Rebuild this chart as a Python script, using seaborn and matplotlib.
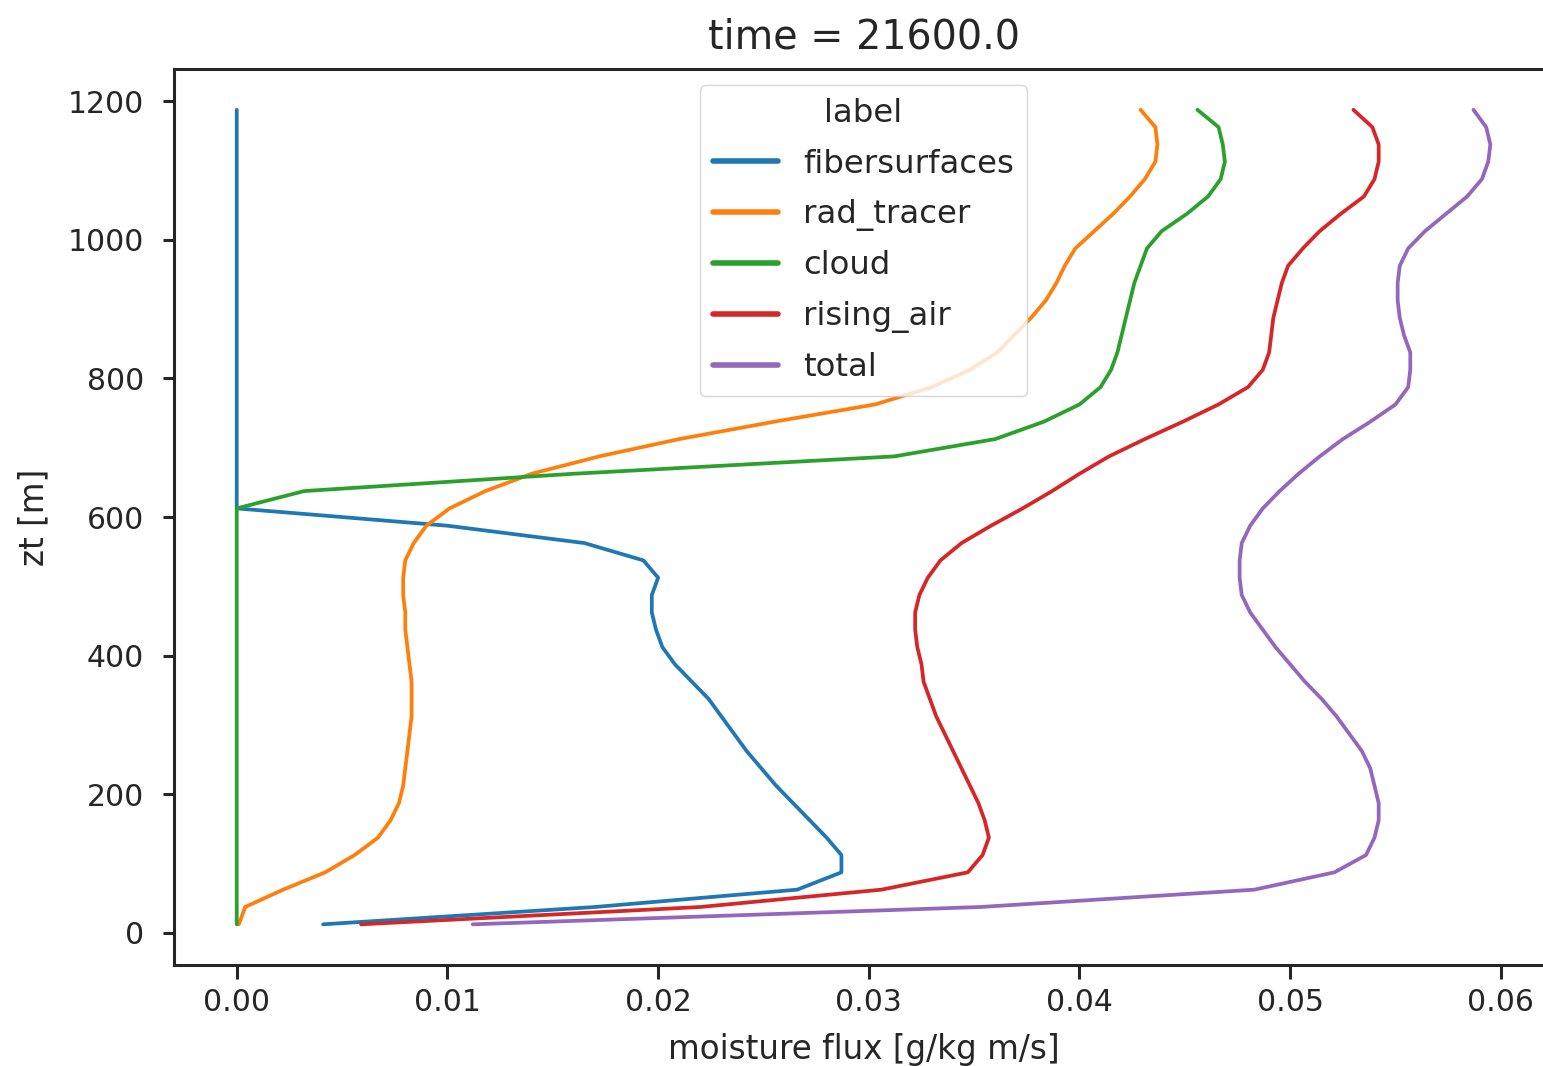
import matplotlib
matplotlib.use("Agg")
import matplotlib.pyplot as plt
import pandas as pd
import seaborn as sns

# ---------------- DATA ----------------
ZT = [12.5, 37.5, 62.5, 87.5, 112.5, 137.5, 162.5, 187.5, 212.5, 237.5,
      262.5, 287.5, 312.5, 337.5, 362.5, 387.5, 412.5, 437.5, 462.5, 487.5,
      512.5, 537.5, 562.5, 587.5, 612.5, 637.5, 662.5, 687.5, 712.5, 737.5,
      762.5, 787.5, 812.5, 837.5, 862.5, 887.5, 912.5, 937.5, 962.5, 987.5,
      1012.5, 1037.5, 1062.5, 1087.5, 1112.5, 1137.5, 1162.5, 1187.5]

FIBERSURFACES = [0.0041, 0.0170, 0.0266, 0.0287, 0.0287, 0.0280, 0.0272, 0.0264, 0.0256, 0.0249,
                 0.0242, 0.0236, 0.0230, 0.0224, 0.0216, 0.0208, 0.0202, 0.0199, 0.0197, 0.0197,
                 0.0200, 0.0193, 0.0165, 0.0100, 0.0000, 0.0000, 0.0000, 0.0000, 0.0000, 0.0000,
                 0.0000, 0.0000, 0.0000, 0.0000, 0.0000, 0.0000, 0.0000, 0.0000, 0.0000, 0.0000,
                 0.0000, 0.0000, 0.0000, 0.0000, 0.0000, 0.0000, 0.0000, 0.0000]

RAD_TRACER = [0.0001, 0.0004, 0.0022, 0.0042, 0.0056, 0.0067, 0.0073, 0.0077, 0.0079, 0.0080,
              0.0081, 0.0082, 0.0083, 0.0083, 0.0083, 0.0082, 0.0081, 0.0080, 0.0080, 0.0079,
              0.0079, 0.0080, 0.0084, 0.0090, 0.0101, 0.0118, 0.0140, 0.0172, 0.0210, 0.0255,
              0.0303, 0.0330, 0.0348, 0.0361, 0.0369, 0.0377, 0.0384, 0.0389, 0.0393, 0.0398,
              0.0407, 0.0416, 0.0424, 0.0431, 0.0436, 0.0437, 0.0436, 0.0429]

CLOUD = [0.0000, 0.0000, 0.0000, 0.0000, 0.0000, 0.0000, 0.0000, 0.0000, 0.0000, 0.0000,
         0.0000, 0.0000, 0.0000, 0.0000, 0.0000, 0.0000, 0.0000, 0.0000, 0.0000, 0.0000,
         0.0000, 0.0000, 0.0000, 0.0000, 0.0000, 0.0032, 0.0160, 0.0312, 0.0360, 0.0383,
         0.0400, 0.0410, 0.0415, 0.0418, 0.0420, 0.0422, 0.0424, 0.0426, 0.0429, 0.0432,
         0.0439, 0.0451, 0.0461, 0.0467, 0.0469, 0.0468, 0.0466, 0.0456]

RISING_AIR = [0.0059, 0.0220, 0.0306, 0.0347, 0.0354, 0.0357, 0.0355, 0.0352, 0.0348, 0.0344,
              0.0340, 0.0336, 0.0332, 0.0329, 0.0326, 0.0325, 0.0323, 0.0322, 0.0322, 0.0324,
              0.0328, 0.0334, 0.0344, 0.0358, 0.0373, 0.0387, 0.0400, 0.0414, 0.0431, 0.0449,
              0.0466, 0.0480, 0.0487, 0.0490, 0.0491, 0.0492, 0.0494, 0.0496, 0.0499, 0.0506,
              0.0514, 0.0524, 0.0535, 0.0540, 0.0542, 0.0542, 0.0539, 0.0530]

TOTAL = [0.0112, 0.0353, 0.0483, 0.0521, 0.0536, 0.0540, 0.0542, 0.0542, 0.0540, 0.0538,
         0.0534, 0.0528, 0.0522, 0.0515, 0.0507, 0.0500, 0.0493, 0.0487, 0.0481, 0.0477,
         0.0476, 0.0476, 0.0477, 0.0481, 0.0487, 0.0495, 0.0504, 0.0514, 0.0525, 0.0538,
         0.0550, 0.0556, 0.0557, 0.0557, 0.0554, 0.0552, 0.0551, 0.0551, 0.0552, 0.0556,
         0.0564, 0.0574, 0.0584, 0.0591, 0.0594, 0.0595, 0.0593, 0.0587]

LABELS = ["fibersurfaces", "rad_tracer", "cloud", "rising_air", "total"]
SERIES = [FIBERSURFACES, RAD_TRACER, CLOUD, RISING_AIR, TOTAL]

# long-form table for seaborn
frames = []
for name, vals in zip(LABELS, SERIES):
    frames.append(pd.DataFrame({"zt": ZT, "flux": vals, "label": name}))
df = pd.concat(frames, ignore_index=True)

# ---------------- STYLE ----------------
sns.set_theme(style="ticks", palette="tab10")
plt.rcParams["font.family"] = ["DejaVu Sans"]
plt.rcParams["axes.linewidth"] = 2.2

fig = plt.figure(figsize=(15.43, 10.66), dpi=100)
# axes runs slightly past the right edge, like the reference
ax = fig.add_axes([0.1128, 0.0947, 0.8937, 0.8405])

sns.lineplot(
    data=df,
    x="flux",
    y="zt",
    hue="label",
    hue_order=LABELS,
    palette="tab10",
    orient="y",
    sort=False,
    estimator=None,
    linewidth=2.7,
    ax=ax,
)

ax.set_title("time = 21600.0", fontsize=28.5, pad=15)
ax.set_xlabel("moisture flux [g/kg m/s]", fontsize=23.5, labelpad=11.5)
ax.set_ylabel("zt [m]", fontsize=23.5, labelpad=12)
ax.tick_params(axis="x", labelsize=21.5, length=10, width=2.2, pad=6.5)
ax.tick_params(axis="y", labelsize=21.5, length=7.8, width=2.2, pad=14)

sns.move_legend(
    ax,
    "upper center",
    title="label",
    fontsize=23.3,
    title_fontsize=23.3,
    labelspacing=0.6,
    frameon=True,
)
leg = ax.get_legend()
for line in leg.get_lines():
    line.set_linewidth(4)

fig.savefig("out.png", dpi=100)
